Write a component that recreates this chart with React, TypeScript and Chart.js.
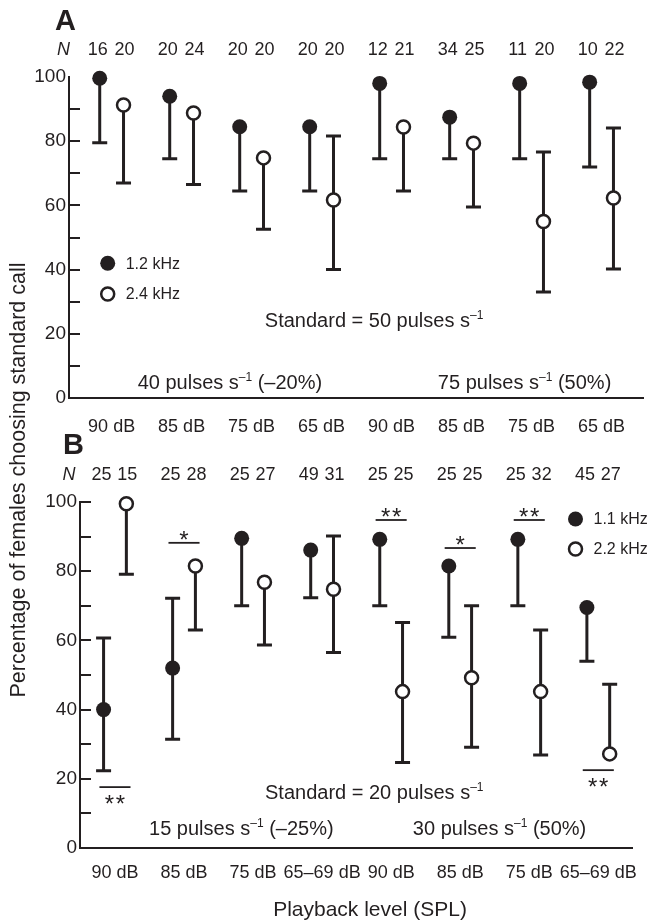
import React, { useEffect, useRef } from "react";
import { Chart, registerables } from "chart.js";

Chart.register(...registerables);

const FONT = '"Liberation Sans", Arial, Helvetica, sans-serif';
const INK = "#231f20";

// ---------- Panel A (standard = 50 pulses/s) ----------
const levelsA = ["90 dB", "85 dB", "75 dB", "65 dB", "90 dB", "85 dB", "75 dB", "65 dB"];
const nA12 = [16, 20, 20, 20, 12, 34, 11, 10];
const nA24 = [20, 24, 20, 20, 21, 25, 20, 22];
const pctA12 = [99.6, 94, 84.5, 84.5, 98, 87.5, 98, 98.4];
const loA12 = [79.5, 74.5, 64.5, 64.5, 74.5, 74.5, 74.5, 72];
const hiA12 = [null, null, null, null, null, null, null, null];
const pctA24 = [91.3, 88.8, 74.8, 61.7, 84.4, 79.4, 55, 62.3];
const loA24 = [67, 66.5, 52.6, 40, 64.5, 59.5, 33, 40.2];
const hiA24 = [null, null, null, 81.6, null, null, 76.6, 84.1];

// ---------- Panel B (standard = 20 pulses/s) ----------
const levelsB = ["90 dB", "85 dB", "75 dB", "65–69 dB", "90 dB", "85 dB", "75 dB", "65–69 dB"];
const nB11 = [25, 25, 25, 49, 25, 25, 25, 45];
const nB22 = [15, 28, 27, 31, 25, 25, 32, 27];
const pctB11 = [40, 52, 89.5, 86.1, 89.2, 81.5, 89.2, 69.5];
const loB11 = [22.3, 31.4, 70, 72.3, 70, 60.9, 70, 54];
const hiB11 = [60.7, 72.2, null, null, null, null, null, null];
const pctB22 = [99.5, 81.5, 76.8, 74.8, 45.2, 49.2, 45.2, 27.2];
const loB22 = [79.1, 63, 58.7, 56.5, 24.7, 29.1, 26.9, null];
const hiB22 = [null, null, null, 90.2, 65.2, 70, 63, 47.3];
const sigGroupsB = [1, 2, 5, 6, 7, 8];
const sigMarksB = ["**", "*", "**", "*", "**", "**"];
const sigLevelsB = [17.6, 88.2, 94.8, 86.7, 94.8, 22.5];
const sigBelowB = [true, false, false, false, false, true];

type Cfg = {
  xMin: number;
  xMax: number;
  yAxisWidth: number;
  padding: { top: number; left: number; right: number; bottom: number };
  labelPad: number;
  cats: string[];
  off: number;
  low: { v: number[]; lo: (number | null)[]; hi: (number | null)[]; n: number[] };
  high: { v: number[]; lo: (number | null)[]; hi: (number | null)[]; n: number[] };
  tickMarks: number[];
  letter: string;
  letterPos: [number, number];
  nRowY: number;
  nLabelX: number;
  texts: { x: number; y: number; parts: string[] }[];
  legend: { x: number; y: [number, number]; labels: [string, string] };
  sig?: { groups: number[]; marks: string[]; levels: number[]; below: boolean[] };
  titles?: boolean;
};

const cfgA: Cfg = {
  xMin: 0.391,
  xMax: 8.592,
  yAxisWidth: 69,
  padding: { top: 77, left: 0, right: 4, bottom: 482 },
  labelPad: 18,
  cats: levelsA,
  off: 0.17,
  low: { v: pctA12, lo: loA12, hi: hiA12, n: nA12 },
  high: { v: pctA24, lo: loA24, hi: hiA24, n: nA24 },
  tickMarks: [10, 20, 30, 40, 50, 60, 70, 80, 90],
  letter: "A",
  letterPos: [55, 30],
  nRowY: 108.4,
  nLabelX: 0.313,
  texts: [
    { x: 4.75, y: 24.3, parts: ["Standard = 50 pulses s", "–1"] },
    { x: 2.69, y: 5, parts: ["40 pulses s", "–1", " (–20%)"] },
    { x: 6.9, y: 5, parts: ["75 pulses s", "–1", " (50%)"] },
  ],
  legend: { x: 0.944, y: [42, 32.4], labels: ["1.2 kHz", "2.4 kHz"] },
};

const cfgB: Cfg = {
  xMin: 0.4935,
  xMax: 8.496,
  yAxisWidth: 80,
  padding: { top: 502, left: 0, right: 19, bottom: 32 },
  labelPad: 14,
  cats: levelsB,
  off: 0.165,
  low: { v: pctB11, lo: loB11, hi: hiB11, n: nB11 },
  high: { v: pctB22, lo: loB22, hi: hiB22, n: nB22 },
  tickMarks: [10, 20, 30, 40, 50, 60, 70, 80, 90, 100],
  letter: "B",
  letterPos: [63, 454],
  nRowY: 107.8,
  nLabelX: 0.334,
  texts: [
    { x: 4.755, y: 16.2, parts: ["Standard = 20 pulses s", "–1"] },
    { x: 2.83, y: 5.8, parts: ["15 pulses s", "–1", " (–25%)"] },
    { x: 6.57, y: 5.8, parts: ["30 pulses s", "–1", " (50%)"] },
  ],
  legend: { x: 7.67, y: [95.1, 86.4], labels: ["1.1 kHz", "2.2 kHz"] },
  sig: { groups: sigGroupsB, marks: sigMarksB, levels: sigLevelsB, below: sigBelowB },
  titles: true,
};

function drawRich(ctx: CanvasRenderingContext2D, parts: string[], cx: number, cy: number, size: number) {
  const main = `${size}px ${FONT}`;
  const sup = `${Math.round(size * 0.62)}px ${FONT}`;
  let w = 0;
  parts.forEach((p, i) => {
    ctx.font = i % 2 ? sup : main;
    w += ctx.measureText(p).width;
  });
  let x = cx - w / 2;
  const base = cy + size * 0.358;
  ctx.textAlign = "left";
  ctx.textBaseline = "alphabetic";
  parts.forEach((p, i) => {
    ctx.font = i % 2 ? sup : main;
    ctx.fillText(p, x, i % 2 ? base - size * 0.4 : base);
    x += ctx.measureText(p).width;
  });
}

function drawMarker(ctx: CanvasRenderingContext2D, x: number, y: number, filled: boolean) {
  ctx.beginPath();
  if (filled) {
    ctx.arc(x, y, 7.5, 0, Math.PI * 2);
    ctx.fillStyle = INK;
    ctx.fill();
  } else {
    ctx.arc(x, y, 6.5, 0, Math.PI * 2);
    ctx.fillStyle = "#fff";
    ctx.fill();
    ctx.lineWidth = 2.5;
    ctx.strokeStyle = INK;
    ctx.stroke();
  }
}

function makePlugin(cfg: Cfg) {
  return {
    id: "panelDecor",
    beforeDatasetsDraw(chart: any) {
      const ctx: CanvasRenderingContext2D = chart.ctx;
      const ys = chart.scales.y;
      ctx.save();
      ctx.strokeStyle = INK;
      ctx.lineWidth = 3;
      ctx.lineCap = "butt";
      chart.data.datasets.forEach((ds: any, d: number) => {
        const meta = chart.getDatasetMeta(d);
        ds.data.forEach((pt: any, i: number) => {
          const x = meta.data[i].x;
          const lo = ds.lo[i];
          const hi = ds.hi[i];
          const top = ys.getPixelForValue(hi ?? pt.y);
          const bot = ys.getPixelForValue(lo ?? pt.y);
          ctx.beginPath();
          ctx.moveTo(x, top);
          ctx.lineTo(x, bot);
          if (lo != null) {
            ctx.moveTo(x - 7.5, bot);
            ctx.lineTo(x + 7.5, bot);
          }
          if (hi != null) {
            ctx.moveTo(x - 7.5, top);
            ctx.lineTo(x + 7.5, top);
          }
          ctx.stroke();
        });
      });
      ctx.restore();
    },
    afterDraw(chart: any) {
      const ctx: CanvasRenderingContext2D = chart.ctx;
      const xs = chart.scales.x;
      const ys = chart.scales.y;
      const area = chart.chartArea;
      ctx.save();
      // inward tick marks
      ctx.strokeStyle = INK;
      ctx.lineWidth = 2;
      ctx.beginPath();
      cfg.tickMarks.forEach((v) => {
        const y = Math.round(ys.getPixelForValue(v));
        ctx.moveTo(area.left, y);
        ctx.lineTo(area.left + 11, y);
      });
      ctx.stroke();

      ctx.fillStyle = INK;
      // panel letter
      ctx.font = `bold 29px ${FONT}`;
      ctx.textAlign = "left";
      ctx.textBaseline = "alphabetic";
      ctx.fillText(cfg.letter, cfg.letterPos[0], cfg.letterPos[1]);

      // N row
      const ny = ys.getPixelForValue(cfg.nRowY);
      ctx.textAlign = "center";
      ctx.textBaseline = "middle";
      ctx.font = `italic 18px ${FONT}`;
      ctx.fillText("N", xs.getPixelForValue(cfg.nLabelX), ny);
      ctx.font = `18px ${FONT}`;
      const m0 = chart.getDatasetMeta(0);
      const m1 = chart.getDatasetMeta(1);
      cfg.low.n.forEach((n, i) => ctx.fillText(String(n), m0.data[i].x - 2, ny));
      cfg.high.n.forEach((n, i) => ctx.fillText(String(n), m1.data[i].x + 1, ny));

      // texts
      ctx.fillStyle = INK;
      cfg.texts.forEach((t) => drawRich(ctx, t.parts, xs.getPixelForValue(t.x), ys.getPixelForValue(t.y), 20));

      // legend
      const lx = xs.getPixelForValue(cfg.legend.x);
      cfg.legend.y.forEach((yv, i) => {
        const y = ys.getPixelForValue(yv);
        drawMarker(ctx, lx, y, i === 0);
        ctx.fillStyle = INK;
        ctx.font = `16px ${FONT}`;
        ctx.textAlign = "left";
        ctx.textBaseline = "middle";
        ctx.fillText(cfg.legend.labels[i], lx + 18, y + 1);
      });

      // significance markers
      if (cfg.sig) {
        const s = cfg.sig;
        s.groups.forEach((g, k) => {
          const y = ys.getPixelForValue(s.levels[k]);
          const x1 = xs.getPixelForValue(g - 0.225);
          const x2 = xs.getPixelForValue(g + 0.225);
          ctx.strokeStyle = INK;
          ctx.lineWidth = 1.8;
          ctx.beginPath();
          ctx.moveTo(x1, y);
          ctx.lineTo(x2, y);
          ctx.stroke();
          const cx = (x1 + x2) / 2;
          const sy = s.below[k] ? y + 11 : y - 9;
          ctx.font = `24px ${FONT}`;
          ctx.textAlign = "center";
          ctx.textBaseline = "alphabetic";
          ctx.fillStyle = INK;
          const marks = s.marks[k].split("");
          marks.forEach((mk, j) => {
            const dx = (j - (marks.length - 1) / 2) * 11;
            ctx.fillText(mk, cx + dx, sy + 14);
          });
        });
      }

      // axis titles
      if (cfg.titles) {
        ctx.fillStyle = INK;
        ctx.font = `21px ${FONT}`;
        ctx.textAlign = "center";
        ctx.textBaseline = "alphabetic";
        ctx.fillText("Playback level (SPL)", 370, 916);
        ctx.save();
        ctx.translate(25, 480);
        ctx.rotate(-Math.PI / 2);
        ctx.font = `21.5px ${FONT}`;
        ctx.fillText("Percentage of females choosing standard call", 0, 0);
        ctx.restore();
      }
      ctx.restore();
    },
  };
}

function Panel({ cfg }: { cfg: Cfg }) {
  const ref = useRef<HTMLCanvasElement>(null);
  useEffect(() => {
    const canvas = ref.current;
    if (!canvas) return;
    const mk = (s: Cfg["low"], sign: number, filled: boolean) => ({
      data: s.v.map((v, i) => ({ x: i + 1 + sign * cfg.off, y: v })),
      lo: s.lo,
      hi: s.hi,
      showLine: false,
      clip: false,
      pointStyle: "circle",
      pointRadius: filled ? 7.5 : 6.5,
      pointHoverRadius: filled ? 7.5 : 6.5,
      pointBackgroundColor: filled ? INK : "#ffffff",
      pointBorderColor: INK,
      pointBorderWidth: filled ? 0 : 2.5,
    });
    const chart = new Chart(canvas, {
      type: "scatter",
      data: { datasets: [mk(cfg.low, -1, true), mk(cfg.high, 1, false)] as any },
      options: {
        responsive: false,
        animation: false,
        events: [],
        layout: { padding: cfg.padding },
        plugins: { legend: { display: false }, tooltip: { enabled: false } },
        scales: {
          x: {
            type: "linear",
            min: cfg.xMin,
            max: cfg.xMax,
            bounds: "data",
            afterFit: (s: any) => {
              s.height = 40;
            },
            afterBuildTicks: (s: any) => {
              s.ticks = cfg.cats.map((_, i) => ({ value: i + 1 }));
            },
            grid: { display: false, drawTicks: false },
            border: { display: true, color: INK, width: 2 },
            ticks: {
              autoSkip: false,
              maxRotation: 0,
              padding: cfg.labelPad,
              color: INK,
              font: { family: FONT, size: 18 },
              callback: (v: any) => cfg.cats[Math.round(Number(v)) - 1] ?? "",
            },
          },
          y: {
            min: 0,
            max: 100,
            afterFit: (s: any) => {
              s.width = cfg.yAxisWidth;
            },
            grid: { display: false, drawTicks: false },
            border: { display: true, color: INK, width: 2 },
            ticks: {
              stepSize: 20,
              padding: 3,
              color: INK,
              font: { family: FONT, size: 19 },
            },
          },
        },
      } as any,
      plugins: [makePlugin(cfg)],
    });
    return () => chart.destroy();
  }, [cfg]);
  return (
    <canvas
      ref={ref}
      width={652}
      height={920}
      style={{ position: "absolute", left: 0, top: 0 }}
    />
  );
}

export default function App() {
  return (
    <div style={{ position: "absolute", left: 0, top: 0, width: 652, height: 920, background: "#ffffff" }}>
      <Panel cfg={cfgA} />
      <Panel cfg={cfgB} />
    </div>
  );
}
